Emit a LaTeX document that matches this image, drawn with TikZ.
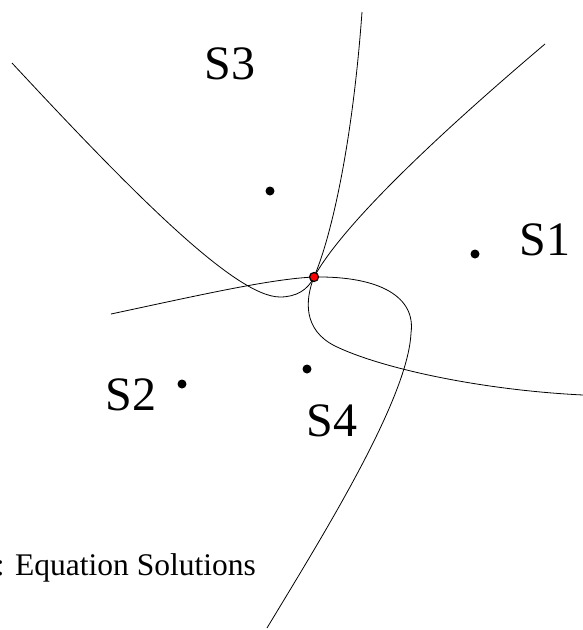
\documentclass[tikz,border=0pt]{standalone}
\usepackage{fontspec}
\setmainfont{Liberation Serif}
\begin{document}
\begin{tikzpicture}[x=1pt,y=-1pt,
  curve/.style={line width=0.8pt, black},
  sdot/.style={circle, fill=black, inner sep=0pt, minimum size=9pt},
  rdot/.style={circle, fill=red, draw=black, line width=1.2pt, inner sep=0pt, minimum size=9pt},
  lbl/.style={font=\fontsize{48}{56}\selectfont, inner sep=0pt},
  note/.style={font=\fontsize{31.5}{36}\selectfont, inner sep=0pt, anchor=base east}]
\useasboundingbox (0,0) rectangle (583,630);
\clip (0,0) rectangle (583,630);
% solution point
\coordinate (c) at (314,277);
% curve A
\draw[curve] (12,63) .. controls (130,190) and (235,297) .. (280,297)
  .. controls (296,297) and (308,290) .. (c)
  .. controls (330,240) and (352,150) .. (362,12);
% curve B
\draw[curve] (111,314) .. controls (200,295) and (270,279) .. (c)
  .. controls (380,276) and (416,297) .. (411,333)
  .. controls (408,400) and (320,540) .. (267,628);
% curve C
\draw[curve] (545,44) .. controls (420,150) and (340,230) .. (c)
  .. controls (305,300) and (303,330) .. (335,346)
  .. controls (380,368) and (480,390) .. (583,395);
% points
\node[sdot] (p3) at (270,191) {};
\node[sdot] (p1) at (475,254) {};
\node[sdot] (p2) at (182,384) {};
\node[sdot] (p4) at (307,369) {};
\node[rdot] (sol) at (c) {};
% labels
\node[lbl] (l3) at (230,64) {S3};
\node[lbl] (l1) at (545,240) {S1};
\node[lbl] (l2) at (131,395) {S2};
\node[lbl] (l4) at (332,421) {S4};
\node[note] (t) at (256,575) {: Equation Solutions};
\end{tikzpicture}
\end{document}
